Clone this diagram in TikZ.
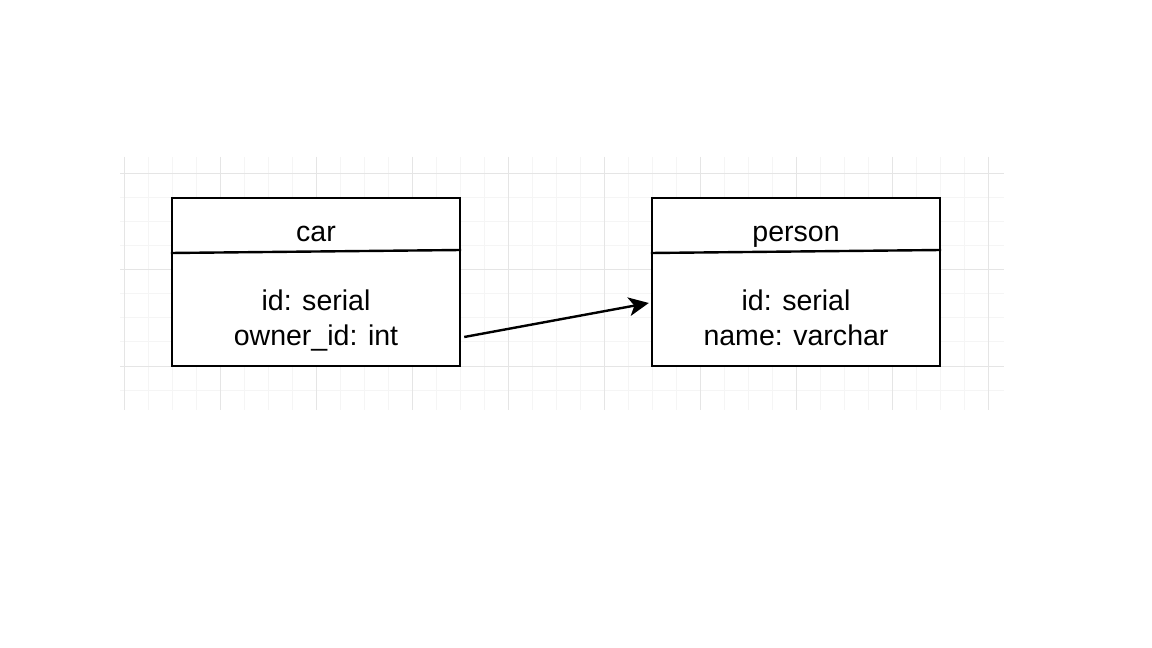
\documentclass[tikz,border=0pt]{standalone}
\usepackage{fontspec}
\setmainfont{Liberation Sans}
\usepackage{tikz}
\usetikzlibrary{positioning,calc,arrows.meta}

\tikzset{
    table/.style={draw, line width=1.8pt, minimum width=216pt, minimum height=126pt, inner sep=0pt},
    divider/.style={line width=1.8pt},
    field/.style={anchor=base, font=\fontsize{21.4}{25}\selectfont, inner sep=0pt},
    minorgrid/.style={draw=black!4, line width=0.75pt},
    majorgrid/.style={draw=black!10, line width=0.75pt},
    fk/.style={line width=1.8pt, -{Stealth[length=15pt, width=14pt, inset=4pt]}}
}

\begin{document}
\begin{tikzpicture}[x=0.75pt, y=-0.75pt]
    \useasboundingbox (0,0) rectangle (1152,648);
    % background grid
    \begin{scope}
        \clip (120,157) rectangle (1004,410);
        \foreach \gx in {124,148,...,1004} \draw[minorgrid] (\gx,157) -- (\gx,410);
        \foreach \gy in {174,198,...,410} \draw[minorgrid] (120,\gy) -- (1004,\gy);
        \foreach \gx in {124,220,...,1004} \draw[majorgrid] (\gx,157) -- (\gx,410);
        \foreach \gy in {174,270,366} \draw[majorgrid] (120,\gy) -- (1004,\gy);
    \end{scope}
    % tables
    \node[table, fill=white] (car) at (316,282) {};
    \draw[divider] ([shift={(0,-29)}]car.west) -- ([shift={(0,-32)}]car.east);
    \node[field] (cartitle) at (316,242) {car};
    \node[field] (carid) at (316,311) {id: serial};
    \node[field] (carowner) at (316,345) {owner\_id: int};

    \node[table, fill=white] (person) at (796,282) {};
    \draw[divider] ([shift={(0,-29)}]person.west) -- ([shift={(0,-32)}]person.east);
    \node[field] (persontitle) at (796,242) {person};
    \node[field] (personid) at (796,311) {id: serial};
    \node[field] (personname) at (796,345) {name: varchar};

    % foreign key
    \draw[fk] ([shift={(3,55)}]car.east) -- ([shift={(-2,21)}]person.west);
\end{tikzpicture}
\end{document}
